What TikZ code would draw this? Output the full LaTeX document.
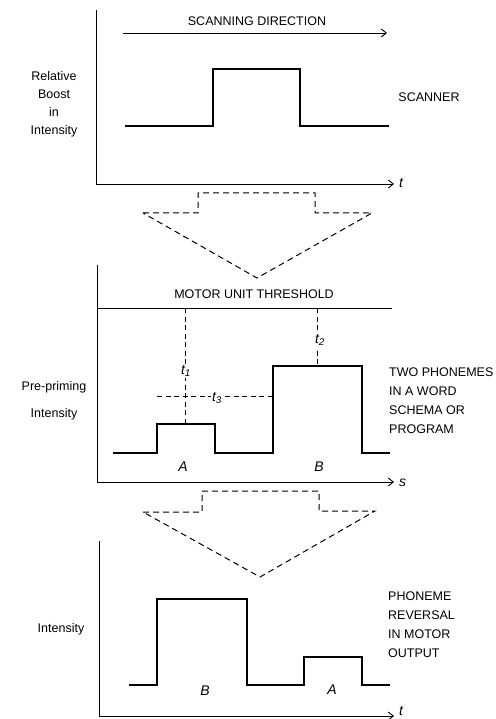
\documentclass[tikz,border=0pt]{standalone}
\usepackage{fontspec}
\setmainfont{Liberation Sans}
\usetikzlibrary{arrows.meta}

\begin{document}
\begin{tikzpicture}[
  x=1pt,y=-1pt,
  font=\fontsize{12.5}{14}\selectfont,
  axis/.style={draw=black, line width=0.9pt},
  axisarrow/.style={axis, -{Straight Barb[length=5pt,width=8pt]}},
  pulse/.style={draw=black, line width=2pt, line join=miter},
  guide/.style={draw=black, line width=0.9pt, dash pattern=on 5pt off 3.5pt},
  funnel/.style={draw=black, line width=1pt, dash pattern=on 6pt off 4pt},
  caption/.style={align=left, anchor=west, inner sep=0pt,
                  font=\fontsize{12.5}{19}\selectfont},
  ylabel/.style={align=center, inner sep=0pt},
  var/.style={font=\fontsize{14}{15}\selectfont\itshape, inner sep=1pt}
]
\useasboundingbox (0,0) rectangle (495,719);

% Scanner panel.
\coordinate (top1) at (96,10);
\coordinate (org1) at (96,184);
\coordinate (end1) at (394,184);
\draw[axis] (top1) -- (org1);
\draw[axisarrow] (org1) -- (end1);
\node[var, anchor=west] (tA) at (398,183) {t};

\coordinate (scanL) at (123,33);
\coordinate (scanR) at (387,33);
\draw[axisarrow] (scanL) -- (scanR);
\node (scanlab) at (257,21) {SCANNING DIRECTION};

\draw[pulse] (125,126) -| (213,69) -| (300,126) -- (389,126);
\node (scanner) at (429,97) {SCANNER};
\node[ylabel, font=\fontsize{12.5}{18}\selectfont] (boost) at (54,104)
  {Relative\\Boost\\in\\Intensity};

\draw[funnel] (143,213) -- (198,213) -- (198,193) -- (315,193)
  -- (315,213) -- (372,213) -- (257,278) -- cycle;

% Word schema panel.
\coordinate (top2) at (97,265);
\coordinate (org2) at (97,482);
\coordinate (end2) at (394,482);
\draw[axis] (top2) -- (org2);
\draw[axisarrow] (org2) -- (end2);
\node[var, anchor=west] (sB) at (398,483) {s};

\coordinate (thrL) at (97,308);
\coordinate (thrR) at (392,308);
\draw[axis] (thrL) -- (thrR);
\node (thrlab) at (254,294) {MOTOR UNIT THRESHOLD};

\draw[guide] (185,308) -- (185,424);
\draw[guide] (317,308) -- (317,366);
\draw[guide] (157,396) -- (273,396);
\node[var, fill=white] (gap1) at (186,371) {t\textsubscript{1}};
\node[var, fill=white] (gap2) at (320,340) {t\textsubscript{2}};
\node[var, fill=white] (gap3) at (217,398) {t\textsubscript{3}};

\draw[pulse] (113,453) -| (157,424) -| (215,453) -| (273,366)
  -| (362,453) -- (390,453);
\node[var] (phA) at (183,467) {A};
\node[var] (phB) at (319,467) {B};

\node[ylabel, font=\fontsize{12.5}{27}\selectfont] (prime) at (54,401)
  {Pre-priming\\Intensity};
\node[caption] (schema) at (389,401)
  {TWO PHONEMES\\IN A WORD\\SCHEMA OR\\PROGRAM};

\draw[funnel] (143,512) -- (202,512) -- (202,491) -- (319,491)
  -- (319,511) -- (375,511) -- (260,577) -- cycle;

% Motor output panel.
\coordinate (top3) at (99,541);
\coordinate (org3) at (99,716);
\coordinate (end3) at (394,716);
\draw[axis] (top3) -- (org3);
\draw[axisarrow] (org3) -- (end3);
\node[var, anchor=west] (tC) at (398,711) {t};

\draw[pulse] (129,685) -| (157,599) -| (247,685) -| (304,657)
  -| (362,685) -- (390,685);
\node[var] (outB) at (205,691) {B};
\node[var] (outA) at (332,690) {A};

\node[ylabel] (outint) at (61,629) {Intensity};
\node[caption] (reversal) at (388,625)
  {PHONEME\\REVERSAL\\IN MOTOR\\OUTPUT};

\end{tikzpicture}
\end{document}
